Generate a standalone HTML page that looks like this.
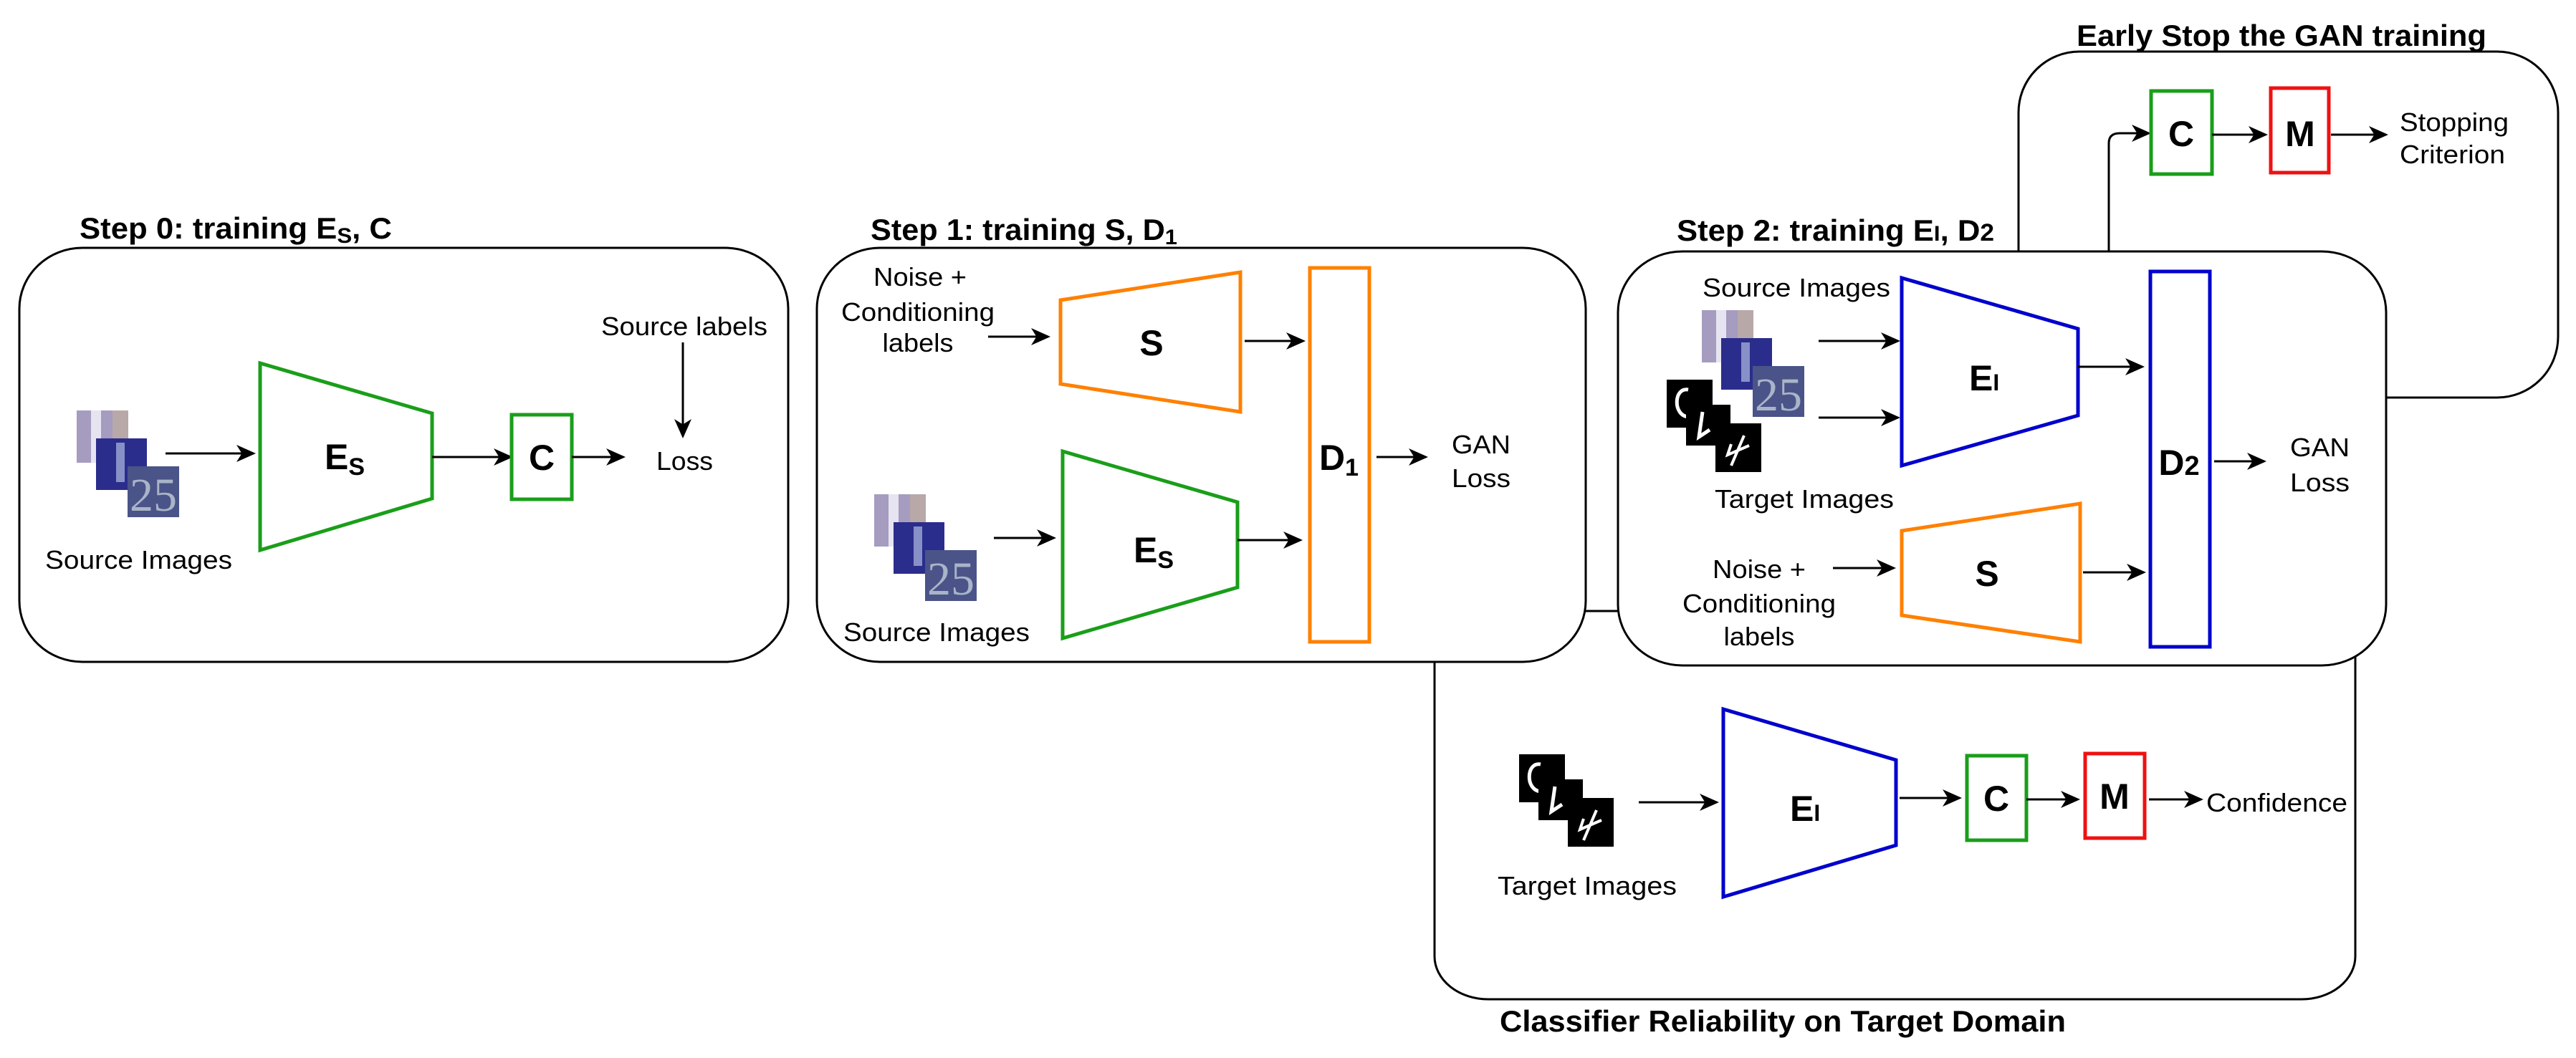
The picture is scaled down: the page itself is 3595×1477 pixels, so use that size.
<!DOCTYPE html>
<html><head><meta charset="utf-8"><style>
html,body{margin:0;padding:0;background:#fff;}
svg{display:block;}
text{font-family:"Liberation Sans Narrow","Liberation Sans",sans-serif;fill:#000;}
.t{font-weight:bold;font-size:42px;}
.l{font-size:36px;}
.b{font-family:"Liberation Sans",sans-serif;font-weight:bold;font-size:50px;}
</style></head><body>
<svg width="3595" height="1477" viewBox="0 0 3595 1477" xmlns="http://www.w3.org/2000/svg">
<defs>
<marker id="a" markerWidth="9" markerHeight="9" refX="8" refY="4.5" orient="auto" markerUnits="strokeWidth">
<path d="M0,0.5 L9,4.5 L0,8.5 L2.5,4.5 Z" fill="#000"/></marker>
<clipPath id="c3"><rect x="71" y="78" width="72" height="71"/></clipPath>
<g id="src">
<rect x="0" y="0" width="72" height="73" fill="#a59cc0"/><rect x="20" y="0" width="14" height="73" fill="#e6e4f0"/><rect x="50" y="0" width="22" height="73" fill="#b8a8a8"/>
<rect x="27" y="39" width="71" height="72" fill="#2b2d8c"/><rect x="55" y="45" width="12" height="55" fill="#8890c8"/>
<rect x="71" y="78" width="72" height="71" fill="#4a5488"/><text x="74" y="140" clip-path="url(#c3)" style="font-family:'Liberation Serif',serif;font-size:66px;fill:#aab4c8">25</text>
</g>
<g id="tgt">
<rect x="0" y="0" width="64" height="67" fill="#000"/><path d="M30,14 C10,10 8,50 30,52" stroke="#fff" stroke-width="5" fill="none"/>
<rect x="27" y="35" width="62" height="57" fill="#000"/><path d="M50,45 L45,80 L60,70" stroke="#fff" stroke-width="5" fill="none"/>
<rect x="68" y="61" width="64" height="68" fill="#000"/><path d="M90,90 L85,105 L115,92 M108,78 L90,120" stroke="#fff" stroke-width="4" fill="none"/>
</g>
</defs>

<rect x="2002" y="853" width="1285" height="542" rx="75" ry="60" fill="#fff" stroke="#000" stroke-width="3"/>
<rect x="2817" y="72" width="753" height="483" rx="85" ry="85" fill="#fff" stroke="#000" stroke-width="3"/>

<!-- Step 0 -->
<rect x="27" y="346" width="1073" height="578" rx="88" ry="85" fill="#fff" stroke="#000" stroke-width="3"/>
<text class="t" x="111" y="333" textLength="436" lengthAdjust="spacingAndGlyphs">Step 0: training E<tspan font-size="30" dy="6">S</tspan><tspan dy="-6">, C</tspan></text>
<use href="#src" x="107" y="573"/>
<line x1="231" y1="633" x2="354" y2="633" stroke="#000" stroke-width="3" marker-end="url(#a)"/>
<polygon points="363,507 603,577 603,696 363,768" fill="none" stroke="#1a9e1a" stroke-width="5"/>
<text class="b" x="453" y="655">E<tspan font-size="34" dy="8">S</tspan></text>
<line x1="603" y1="638" x2="713" y2="638" stroke="#000" stroke-width="3" marker-end="url(#a)"/>
<rect x="714" y="579" width="84" height="118" fill="none" stroke="#1a9e1a" stroke-width="5"/>
<text class="b" x="756" y="656" text-anchor="middle">C</text>
<line x1="798" y1="638" x2="870" y2="638" stroke="#000" stroke-width="3" marker-end="url(#a)"/>
<text class="l" x="916" y="656" textLength="79" lengthAdjust="spacingAndGlyphs">Loss</text>
<text class="l" x="839" y="468" textLength="232" lengthAdjust="spacingAndGlyphs">Source labels</text>
<line x1="953" y1="478" x2="953" y2="609" stroke="#000" stroke-width="3" marker-end="url(#a)"/>
<text class="l" x="63" y="794" textLength="261" lengthAdjust="spacingAndGlyphs">Source Images</text>

<!-- Step 1 -->
<rect x="1140" y="346" width="1073" height="578" rx="88" ry="85" fill="#fff" stroke="#000" stroke-width="3"/>
<text class="t" x="1215" y="335" textLength="428" lengthAdjust="spacingAndGlyphs">Step 1: training S, D<tspan font-size="30" dy="6">1</tspan></text>
<text class="l" x="1284" y="399" text-anchor="middle" textLength="130" lengthAdjust="spacingAndGlyphs">Noise +</text>
<text class="l" x="1281" y="448" text-anchor="middle" textLength="214" lengthAdjust="spacingAndGlyphs">Conditioning</text>
<text class="l" x="1281" y="491" text-anchor="middle" textLength="99" lengthAdjust="spacingAndGlyphs">labels</text>
<line x1="1379" y1="470" x2="1463" y2="470" stroke="#000" stroke-width="3" marker-end="url(#a)"/>
<polygon points="1480,419 1731,380 1731,575 1480,536" fill="none" stroke="#ff8000" stroke-width="5"/>
<text class="b" x="1607" y="496" text-anchor="middle">S</text>
<line x1="1737" y1="476" x2="1819" y2="476" stroke="#000" stroke-width="3" marker-end="url(#a)"/>
<rect x="1828" y="374" width="83" height="522" fill="none" stroke="#ff8000" stroke-width="5"/>
<text class="b" x="1841" y="656">D<tspan font-size="34" dy="8">1</tspan></text>
<line x1="1921" y1="638" x2="1990" y2="638" stroke="#000" stroke-width="3" marker-end="url(#a)"/>
<text class="l" x="2026" y="633" textLength="82" lengthAdjust="spacingAndGlyphs">GAN</text>
<text class="l" x="2026" y="680" textLength="82" lengthAdjust="spacingAndGlyphs">Loss</text>
<use href="#src" x="1220" y="690"/>
<line x1="1387" y1="751" x2="1471" y2="751" stroke="#000" stroke-width="3" marker-end="url(#a)"/>
<polygon points="1483,630 1727,701 1727,820 1483,891" fill="none" stroke="#1a9e1a" stroke-width="5"/>
<text class="b" x="1582" y="785">E<tspan font-size="34" dy="8">S</tspan></text>
<line x1="1727" y1="754" x2="1815" y2="754" stroke="#000" stroke-width="3" marker-end="url(#a)"/>
<text class="l" x="1177" y="895" textLength="260" lengthAdjust="spacingAndGlyphs">Source Images</text>

<!-- Early stop -->
<text class="t" x="2898" y="64" textLength="572" lengthAdjust="spacingAndGlyphs">Early Stop the GAN training</text>
<path d="M2943,512 L2943,200 Q2943,186 2958,186 L2999,186" fill="none" stroke="#000" stroke-width="3" marker-end="url(#a)"/>
<rect x="3002" y="127" width="85" height="116" fill="none" stroke="#1a9e1a" stroke-width="5"/>
<text class="b" x="3044" y="204" text-anchor="middle">C</text>
<line x1="3087" y1="188" x2="3162" y2="188" stroke="#000" stroke-width="3" marker-end="url(#a)"/>
<rect x="3169" y="123" width="81" height="118" fill="none" stroke="#ee1111" stroke-width="5"/>
<text class="b" x="3210" y="204" text-anchor="middle">M</text>
<line x1="3253" y1="188" x2="3330" y2="188" stroke="#000" stroke-width="3" marker-end="url(#a)"/>
<text class="l" x="3349" y="183" textLength="152" lengthAdjust="spacingAndGlyphs">Stopping</text>
<text class="l" x="3349" y="228" textLength="147" lengthAdjust="spacingAndGlyphs">Criterion</text>

<!-- Step 2 -->
<rect x="2258" y="351" width="1072" height="578" rx="90" ry="85" fill="#fff" stroke="#000" stroke-width="3"/>
<text class="t" x="2340" y="336" textLength="443" lengthAdjust="spacingAndGlyphs">Step 2: training E<tspan font-size="30">I</tspan>, D<tspan font-size="34">2</tspan></text>
<text class="l" x="2376" y="414" textLength="262" lengthAdjust="spacingAndGlyphs">Source Images</text>
<use href="#src" x="2375" y="433"/>
<use href="#tgt" x="2326" y="530"/>
<text class="l" x="2393" y="709" textLength="250" lengthAdjust="spacingAndGlyphs">Target Images</text>
<line x1="2538" y1="476" x2="2649" y2="476" stroke="#000" stroke-width="3" marker-end="url(#a)"/>
<line x1="2538" y1="583" x2="2649" y2="583" stroke="#000" stroke-width="3" marker-end="url(#a)"/>
<polygon points="2654,388 2900,459 2900,580 2654,650" fill="none" stroke="#0000cc" stroke-width="5"/>
<text class="b" x="2748" y="545">E<tspan font-size="32">I</tspan></text>
<line x1="2900" y1="512" x2="2990" y2="512" stroke="#000" stroke-width="3" marker-end="url(#a)"/>
<rect x="3001" y="379" width="83" height="524" fill="none" stroke="#0000cc" stroke-width="5"/>
<text class="b" x="3041" y="663" text-anchor="middle">D<tspan font-size="38">2</tspan></text>
<line x1="3090" y1="644" x2="3160" y2="644" stroke="#000" stroke-width="3" marker-end="url(#a)"/>
<text class="l" x="3196" y="637" textLength="83" lengthAdjust="spacingAndGlyphs">GAN</text>
<text class="l" x="3196" y="686" textLength="83" lengthAdjust="spacingAndGlyphs">Loss</text>
<text class="l" x="2455" y="807" text-anchor="middle" textLength="130" lengthAdjust="spacingAndGlyphs">Noise +</text>
<text class="l" x="2455" y="855" text-anchor="middle" textLength="214" lengthAdjust="spacingAndGlyphs">Conditioning</text>
<text class="l" x="2455" y="901" text-anchor="middle" textLength="99" lengthAdjust="spacingAndGlyphs">labels</text>
<line x1="2558" y1="793" x2="2643" y2="793" stroke="#000" stroke-width="3" marker-end="url(#a)"/>
<polygon points="2654,741 2903,703 2903,896 2654,859" fill="none" stroke="#ff8000" stroke-width="5"/>
<text class="b" x="2773" y="818" text-anchor="middle">S</text>
<line x1="2907" y1="799" x2="2992" y2="799" stroke="#000" stroke-width="3" marker-end="url(#a)"/>

<!-- Classifier -->
<use href="#tgt" x="2120" y="1053"/>
<line x1="2287" y1="1120" x2="2396" y2="1120" stroke="#000" stroke-width="3" marker-end="url(#a)"/>
<polygon points="2405,990 2646,1061 2646,1180 2405,1252" fill="none" stroke="#0000cc" stroke-width="5"/>
<text class="b" x="2498" y="1146">E<tspan font-size="32">I</tspan></text>
<line x1="2651" y1="1114" x2="2735" y2="1114" stroke="#000" stroke-width="3" marker-end="url(#a)"/>
<rect x="2745" y="1055" width="83" height="118" fill="none" stroke="#1a9e1a" stroke-width="5"/>
<text class="b" x="2786" y="1132" text-anchor="middle">C</text>
<line x1="2828" y1="1116" x2="2900" y2="1116" stroke="#000" stroke-width="3" marker-end="url(#a)"/>
<rect x="2910" y="1052" width="83" height="118" fill="none" stroke="#ee1111" stroke-width="5"/>
<text class="b" x="2951" y="1129" text-anchor="middle">M</text>
<line x1="2999" y1="1116" x2="3072" y2="1116" stroke="#000" stroke-width="3" marker-end="url(#a)"/>
<text class="l" x="3079" y="1133" textLength="197" lengthAdjust="spacingAndGlyphs">Confidence</text>
<text class="l" x="2090" y="1249" textLength="250" lengthAdjust="spacingAndGlyphs">Target Images</text>
<text class="t" x="2093" y="1440" textLength="790" lengthAdjust="spacingAndGlyphs">Classifier Reliability on Target Domain</text>
</svg>
</body></html>
